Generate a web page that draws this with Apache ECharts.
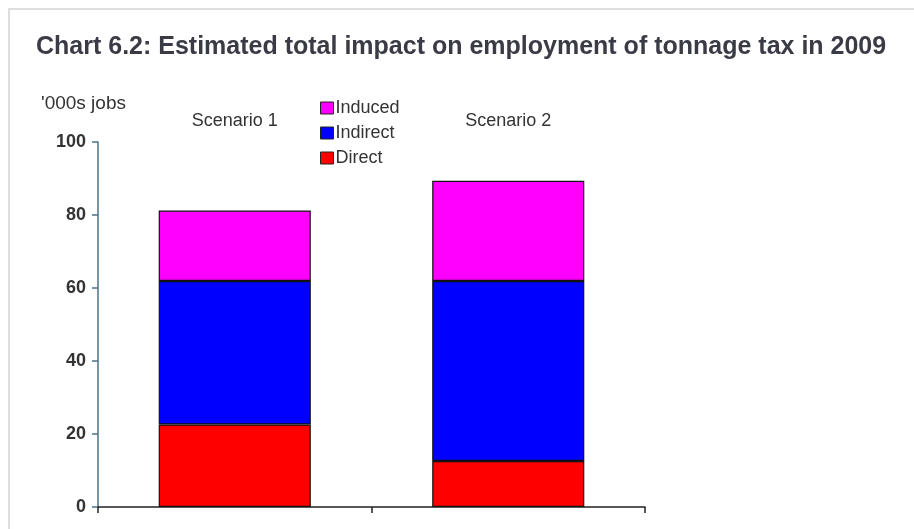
<!DOCTYPE html>
<html>
<head>
<meta charset="utf-8">
<script src="https://cdn.jsdelivr.net/npm/echarts@6/dist/echarts.min.js"></script>
<style>
  html, body { margin: 0; padding: 0; background: #fff; }
  #chart { width: 914px; height: 529px; }
</style>
</head>
<body>
<div id="chart"></div>
<script>
var scenarios = ['Scenario 1', 'Scenario 2']
var direct = [22.6, 12.6]
var indirect = [39.3, 49.3]
var induced = [19.3, 27.5]
var yTicks = [0, 20, 40, 60, 80, 100]

var myChart = echarts.init(document.getElementById('chart'))

var barStyle = function (color) {
  return { color: color, borderColor: '#111', borderWidth: 1.2 }
}

myChart.setOption({
  animation: false,
  textStyle: { fontFamily: 'Liberation Sans, Arial, sans-serif' },
  title: {
    text: 'Chart 6.2: Estimated total impact on employment of tonnage tax in 2009',
    left: 31,
    top: 30,
    textStyle: { fontSize: 25, fontWeight: 'bold', color: '#3a3b45' }
  },
  graphic: [
    {
      type: 'rect',
      shape: { x: 9, y: 9, width: 920, height: 530 },
      style: { fill: 'none', stroke: '#dedede', lineWidth: 2 },
      z: -1
    },
    {
      type: 'text',
      left: 41,
      top: 94,
      style: { text: "'000s jobs", fontSize: 19, fill: '#333', fontFamily: 'Liberation Sans, Arial, sans-serif' }
    }
  ],
  legend: {
    orient: 'vertical',
    left: 315,
    top: 94,
    icon: 'rect',
    itemWidth: 13,
    itemHeight: 12,
    itemGap: 7,
    data: ['Induced', 'Indirect', 'Direct'],
    itemStyle: { borderColor: '#222', borderWidth: 1 },
    textStyle: { fontSize: 18, color: '#333', padding: [0, 0, 0, -3] }
  },
  grid: { left: 98, top: 142, width: 547, height: 365 },
  xAxis: [
    {
      type: 'category',
      data: scenarios,
      axisLine: { lineStyle: { color: '#222', width: 1.5 } },
      axisTick: { show: true, length: 6, lineStyle: { color: '#222', width: 1.5 } },
      axisLabel: { show: false }
    },
    {
      type: 'category',
      data: scenarios,
      position: 'top',
      axisLine: { show: false },
      axisTick: { show: false },
      axisLabel: { fontSize: 18, color: '#333', margin: 12 }
    }
  ],
  yAxis: {
    type: 'value',
    min: yTicks[0],
    max: yTicks[yTicks.length - 1],
    interval: 20,
    splitLine: { show: false },
    axisLine: { show: true, lineStyle: { color: '#4d7388', width: 1.5 } },
    axisTick: { show: true, length: 6, lineStyle: { color: '#4d7388', width: 1.5 } },
    axisLabel: { fontSize: 18, fontWeight: 'bold', color: '#333', margin: 12 }
  },
  series: [
    { name: 'Direct', type: 'bar', stack: 'total', barWidth: '55.6%', data: direct, itemStyle: barStyle('#ff0000') },
    { name: 'Indirect', type: 'bar', stack: 'total', data: indirect, itemStyle: barStyle('#0000ff') },
    { name: 'Induced', type: 'bar', stack: 'total', data: induced, itemStyle: barStyle('#ff00ff') }
  ]
})
</script>
</body>
</html>
